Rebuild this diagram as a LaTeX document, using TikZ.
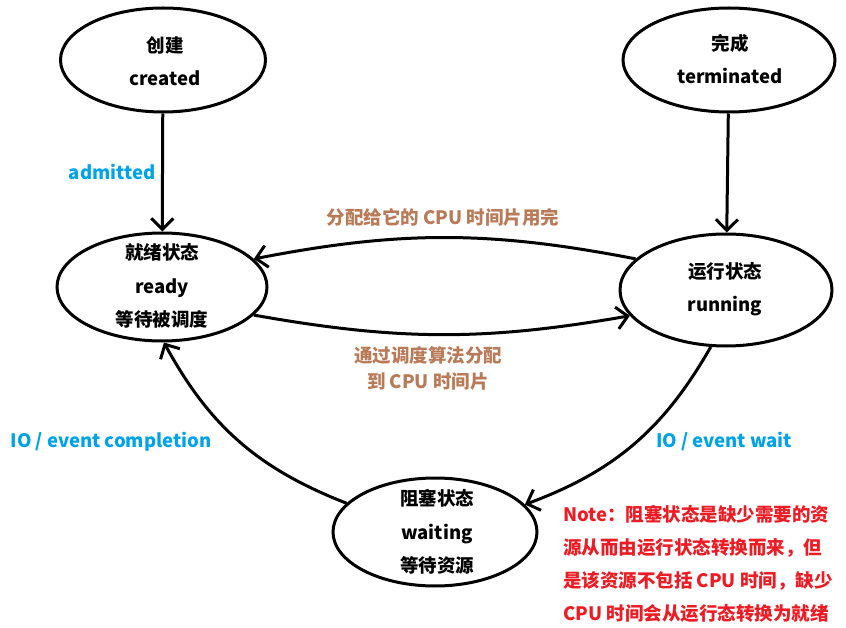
\documentclass[tikz,border=0pt]{standalone}
\usepackage{fontspec}
\setmainfont{Noto Sans CJK SC}
\usetikzlibrary{shapes.geometric,arrows.meta}
\definecolor{cyanl}{HTML}{00A2E8}
\definecolor{brownl}{HTML}{B97A57}
\definecolor{redl}{HTML}{ED1C24}
\begin{document}
\begin{tikzpicture}[x=1pt,y=1pt,
  st/.style={draw,line width=3pt,ellipse,inner sep=0pt},
  lbl/.style={font=\fontsize{18.5}{33.5}\selectfont\bfseries,align=center,inner sep=0pt},
  edgetxt/.style={font=\fontsize{18.5}{26}\selectfont\bfseries,align=center,inner sep=0pt},
  arr/.style={line width=3pt,-{Straight Barb[length=11pt,width=22pt]}},
]
\useasboundingbox (0,0) rectangle (846,-628);
% states
\node[st,minimum width=205pt,minimum height=104pt] (created) at (163,-60) {};
\node[st,minimum width=212pt,minimum height=104pt] (terminated) at (729,-60) {};
\node[st,minimum width=210pt,minimum height=108pt] (ready) at (162,-287) {};
\node[st,minimum width=212pt,minimum height=112pt] (running) at (726,-290) {};
\node[st,minimum width=204pt,minimum height=108pt] (waiting) at (435,-532) {};
% state texts
\node[lbl] (tcreated) at (165,-61) {创建\\created};
\node[lbl] (tterminated) at (730,-59) {完成\\terminated};
\node[lbl] (tready) at (162,-286) {就绪状态\\ready\\等待被调度};
\node[lbl] (trunning) at (725,-289) {运行状态\\running};
\node[lbl] (twaiting) at (437,-532) {阻塞状态\\waiting\\等待资源};
% connectors
\draw[arr] (created) -- (ready);
\draw[arr] (terminated) -- (running);
\draw[arr] (running.161) to[bend right=11] (ready.17);
\draw[arr] (ready.-17) to[bend right=10] (running.195);
\draw[arr] (running.-105) to[bend left=20] (waiting.17);
\draw[arr] (waiting.162) to[bend left=20] (ready.-88);
% labels
\node[edgetxt,text=cyanl] (ladm) at (112,-172) {admitted};
\node[edgetxt,text=brownl] (ltop) at (443,-217) {分配给它的 CPU 时间片用完};
\node[edgetxt,text=brownl] (lbot) at (428,-368) {通过调度算法分配\\到 CPU 时间片};
\node[edgetxt,text=cyanl] (lcomp) at (111,-442) {IO / event completion};
\node[edgetxt,text=cyanl] (lwait) at (724,-442) {IO / event wait};
\node[font=\fontsize{18.5}{32.8}\selectfont\bfseries,text=redl,align=left,inner sep=0pt,anchor=west] (note) at (563,-564)
  {Note：阻塞状态是缺少需要的资\\源从而由运行状态转换而来，但\\是该资源不包括 CPU 时间，缺少\\CPU 时间会从运行态转换为就绪};
\end{tikzpicture}
\end{document}
